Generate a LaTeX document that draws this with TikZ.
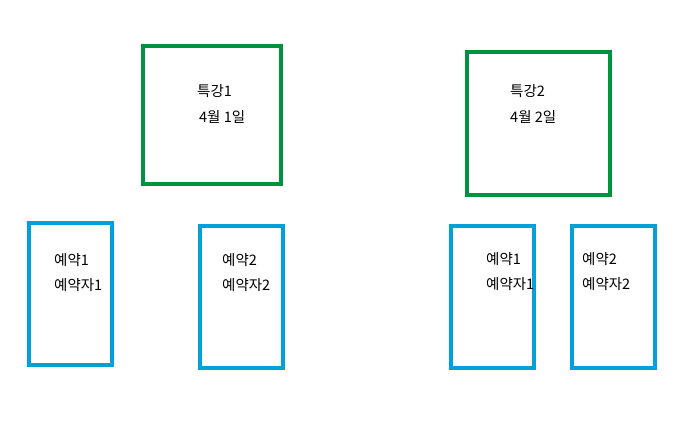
\documentclass[tikz,border=0pt]{standalone}
\usepackage{fontspec}
\setmainfont{Noto Sans CJK KR}
\usepackage{tikz}
\usepackage{xcolor}
\definecolor{lecgreen}{RGB}{0,146,63}
\definecolor{resblue}{RGB}{0,160,218}
\tikzset{
  lecture/.style={draw=lecgreen, line width=3.5pt, inner sep=0pt},
  booking/.style={draw=resblue, line width=3.5pt, inner sep=0pt},
  label/.style={anchor=west, inner sep=0pt, font=\fontsize{14.5}{16}\selectfont}
}
\begin{document}
\begin{tikzpicture}[x=1pt, y=-1pt]
        \useasboundingbox (0,0) rectangle (685,427);
        % lectures
        \draw[lecture] (143,46) rectangle (281,184) node (Lec1) {};
        \draw[lecture] (467,52) rectangle (610,195) node (Lec2) {};
        \node[label] (Lec1Name) at (197,91) {특강1};
        \node[label] (Lec1Date) at (199,117) {4월 1일};
        \node[label] (Lec2Name) at (510,91) {특강2};
        \node[label] (Lec2Date) at (510,117) {4월 2일};
        % reservations
        \foreach \x/\y/\n in {29/223/1, 200/226/2, 451/226/3, 572/226/4}{
        \draw[booking] (\x,\y) rectangle (\x+83,\y+142) node (Res\n) {};}
        \foreach \x/\y/\n/\k in {54/260/1/1, 222/260/2/2, 486/259/3/1, 582/259/4/2}{
        \node[label] (Res\n Name) at (\x,\y) {예약\k};
        \node[label] (Res\n Who) at (\x,\y+25) {예약자\k};}
\end{tikzpicture}
\end{document}
